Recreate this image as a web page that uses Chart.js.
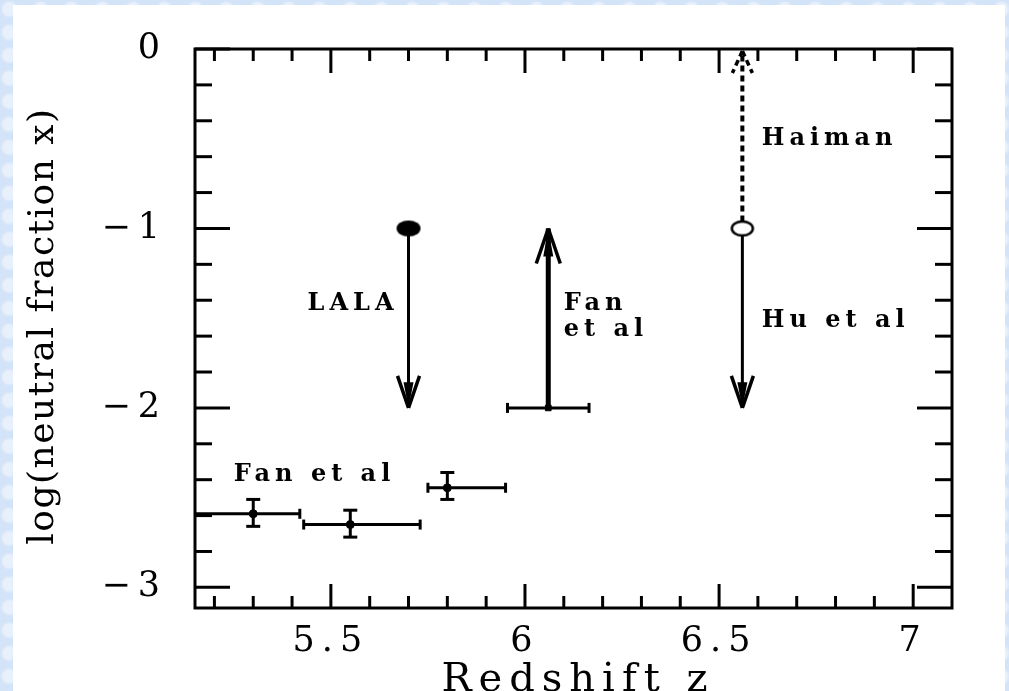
<!DOCTYPE html>
<html lang="en">
<head>
<meta charset="UTF-8" />
<title>Neutral fraction vs redshift</title>
<script src="https://cdn.jsdelivr.net/npm/chart.js"></script>
<style>
  html, body { margin: 0; padding: 0; }
  body {
    width: 1009px; height: 691px; overflow: hidden; position: relative;
    background-color: #d3e3f8;
    background-image:
      radial-gradient(circle at 30% 40%, rgba(255,255,255,.45) 0 6px, transparent 9px),
      radial-gradient(circle at 70% 75%, rgba(190,212,245,.6) 0 5px, transparent 8px);
    background-size: 31px 23px, 27px 37px;
  }
  #panel { position: absolute; left: 13px; top: 5px; width: 992px; height: 686px; background: #fff; }
  #plot { position: absolute; left: 0; top: 0; }
</style>
</head>
<body>
<div id="panel"></div>
<canvas id="plot" width="1009" height="691"></canvas>
<script>
// axis ticks
const XTICKS = [5.5, 6, 6.5, 7];
const YTICKS = [0, -1, -2, -3];

// Fan et al quasar measurements (z, log x, with error ranges)
const fanZ   = [5.30, 5.55, 5.80];
const fanX   = [-2.59, -2.65, -2.445];
const fanZLo = [5.14, 5.43, 5.75];
const fanZHi = [5.42, 5.73, 5.95];
const fanXLo = [-2.66, -2.72, -2.51];
const fanXHi = [-2.51, -2.57, -2.36];

// Fan et al lower limit at z ~ 6
const gpZ     = [6.06];
const gpX     = [-2.0];
const gpZLo   = [5.955];
const gpZHi   = [6.165];
const gpLimit = [-1.0];

// LALA upper limit
const lalaZ     = [5.70];
const lalaX     = [-1.0];
const lalaLimit = [-2.0];

// Hu et al upper limit, Haiman range
const huZ         = [6.56];
const huX         = [-1.0];
const huLimit     = [-2.0];
const haimanLimit = [0.0];

const notes = [
  { text: 'LALA',      z: 5.44,  v: -1.42 },
  { text: 'Fan',       z: 6.10,  v: -1.42 },
  { text: 'et al',     z: 6.10,  v: -1.565 },
  { text: 'Hu et al',  z: 6.61,  v: -1.515 },
  { text: 'Haiman',    z: 6.61,  v: -0.50 },
  { text: 'Fan et al', z: 5.25,  v: -2.37 }
];

function ellipseMark(filled) {
  const c = document.createElement('canvas');
  c.width = 26; c.height = 18;
  const g = c.getContext('2d');
  g.beginPath();
  if (filled) {
    g.ellipse(13, 9, 12, 8, 0, 0, 2 * Math.PI);
    g.fillStyle = '#000'; g.fill();
  } else {
    g.ellipse(13, 9, 10.5, 7, 0, 0, 2 * Math.PI);
    g.lineWidth = 2.5; g.strokeStyle = '#000'; g.stroke();
  }
  return c;
}

function line(ctx, x0, y0, x1, y1) {
  ctx.beginPath(); ctx.moveTo(x0, y0); ctx.lineTo(x1, y1); ctx.stroke();
}

function arrow(ctx, px, y0, y1, w, hl, hw, dash) {
  const dir = Math.sign(y1 - y0);
  ctx.setLineDash(dash || []);
  ctx.lineWidth = w;
  line(ctx, px, y0, px, y1);
  ctx.lineWidth = 3.5;
  line(ctx, px, y1, px - hw, y1 - dir * hl);
  line(ctx, px, y1, px + hw, y1 - dir * hl);
  if (!dash) {
    ctx.beginPath();
    ctx.moveTo(px, y1);
    ctx.lineTo(px - 5, y1 - dir * hl * 0.8);
    ctx.lineTo(px + 5, y1 - dir * hl * 0.8);
    ctx.closePath(); ctx.fill();
  }
  ctx.setLineDash([]);
}

const decor = {
  id: 'decor',
  beforeDraw(chart) {
    chart.ctx.save();
    chart.ctx.letterSpacing = '7px';
  },
  beforeDatasetsDraw(chart) {
    chart.ctx.restore();
  },
  afterDatasetsDraw(chart) {
    const ctx = chart.ctx, xs = chart.scales.x, ys = chart.scales.y, a = chart.chartArea;
    ctx.save();
    ctx.beginPath(); ctx.rect(a.left, a.top, a.right - a.left, a.bottom - a.top); ctx.clip();
    ctx.strokeStyle = '#000'; ctx.fillStyle = '#000'; ctx.lineWidth = 3;

    // error bars
    const bars = [];
    fanZ.forEach((z, i) => bars.push([z, fanX[i], fanZLo[i], fanZHi[i], fanXLo[i], fanXHi[i]]));
    gpZ.forEach((z, i) => bars.push([z, gpX[i], gpZLo[i], gpZHi[i], null, null]));
    bars.forEach(([z, v, zlo, zhi, vlo, vhi]) => {
      const px = xs.getPixelForValue(z), py = ys.getPixelForValue(v);
      const l = xs.getPixelForValue(zlo), r = xs.getPixelForValue(zhi);
      ctx.lineWidth = 3;
      line(ctx, l, py, r, py);
      line(ctx, l, py - 5, l, py + 5);
      line(ctx, r, py - 5, r, py + 5);
      if (vlo !== null) {
        const t = ys.getPixelForValue(vhi), b = ys.getPixelForValue(vlo);
        line(ctx, px, t, px, b);
        line(ctx, px - 7, t, px + 7, t);
        line(ctx, px - 7, b, px + 7, b);
      }
    });

    // limit arrows
    gpZ.forEach((z, i) => {
      arrow(ctx, xs.getPixelForValue(z), ys.getPixelForValue(gpX[i]), ys.getPixelForValue(gpLimit[i]), 5, 35, 12);
    });
    lalaZ.forEach((z, i) => {
      arrow(ctx, xs.getPixelForValue(z), ys.getPixelForValue(lalaX[i]) + 6, ys.getPixelForValue(lalaLimit[i]), 3, 32, 11);
    });
    huZ.forEach((z, i) => {
      arrow(ctx, xs.getPixelForValue(z), ys.getPixelForValue(huX[i]) + 7, ys.getPixelForValue(huLimit[i]), 3, 32, 11);
      arrow(ctx, xs.getPixelForValue(z), ys.getPixelForValue(huX[i]) - 7, ys.getPixelForValue(haimanLimit[i]) + 2, 4, 22, 10, [6, 4]);
    });
    ctx.restore();
  },
  afterDraw(chart) {
    const ctx = chart.ctx, xs = chart.scales.x, ys = chart.scales.y, a = chart.chartArea;
    ctx.save();
    ctx.strokeStyle = '#000'; ctx.fillStyle = '#000'; ctx.lineWidth = 3;
    ctx.strokeRect(a.left, a.top, a.right - a.left, a.bottom - a.top);

    // inward ticks on all four sides
    for (let k = 52; k <= 70; k++) {
      const px = xs.getPixelForValue(k / 10);
      const L = k % 5 === 0 ? 24 : 12;
      line(ctx, px, a.bottom, px, a.bottom - L);
      line(ctx, px, a.top, px, a.top + L);
    }
    for (let k = 0; k <= 15; k++) {
      const py = ys.getPixelForValue(-k * 0.2);
      const L = k % 5 === 0 ? 35 : 17;
      line(ctx, a.left, py, a.left + L, py);
      line(ctx, a.right, py, a.right - L, py);
    }

    // axis titles
    ctx.textAlign = 'center'; ctx.textBaseline = 'middle';
    ctx.font = '40px "DejaVu Serif"';
    ctx.letterSpacing = '7px';
    ctx.fillText('Redshift z', 578, 681);
    ctx.save();
    ctx.translate(44, 326); ctx.rotate(-Math.PI / 2);
    ctx.font = '36px "DejaVu Serif"';
    ctx.letterSpacing = '1.5px';
    ctx.fillText('log(neutral fraction x)', 0, 0);
    ctx.restore();

    // annotations
    ctx.textAlign = 'left';
    ctx.font = 'bold 24px "DejaVu Serif"';
    ctx.letterSpacing = '5px';
    notes.forEach(n => ctx.fillText(n.text, xs.getPixelForValue(n.z), ys.getPixelForValue(n.v)));
    ctx.restore();
  }
};

new Chart(document.getElementById('plot'), {
  type: 'scatter',
  data: {
    datasets: [
      { label: 'Fan et al', data: fanZ.map((z, i) => ({ x: z, y: fanX[i] })),
        backgroundColor: '#000', borderColor: '#000', pointRadius: 4 },
      { label: 'Fan et al limit', data: gpZ.map((z, i) => ({ x: z, y: gpX[i] })),
        backgroundColor: '#000', borderColor: '#000', pointStyle: 'rect', pointRadius: 4 },
      { label: 'LALA', data: lalaZ.map((z, i) => ({ x: z, y: lalaX[i] })),
        pointStyle: ellipseMark(true) },
      { label: 'Hu et al', data: huZ.map((z, i) => ({ x: z, y: huX[i] })),
        pointStyle: ellipseMark(false) }
    ]
  },
  options: {
    responsive: false,
    animation: false,
    events: [],
    layout: { padding: { top: 41, right: 57, left: 0, bottom: 0 } },
    plugins: { legend: { display: false }, tooltip: { enabled: false } },
    scales: {
      x: {
        type: 'linear', min: 5.15, max: 7.1,
        grid: { display: false, drawTicks: false },
        border: { display: false },
        afterBuildTicks: s => { s.ticks = XTICKS.map(v => ({ value: v })); },
        afterFit: s => { s.height = 83; },
        ticks: { color: '#000', font: { family: 'DejaVu Serif', size: 35 }, padding: 13, maxRotation: 0,
                 callback: v => String(v) }
      },
      y: {
        type: 'linear', min: -3.115, max: 0,
        grid: { display: false, drawTicks: false },
        border: { display: false },
        afterBuildTicks: s => { s.ticks = YTICKS.map(v => ({ value: v })); },
        afterFit: s => { s.width = 195; },
        ticks: { color: '#000', font: { family: 'DejaVu Serif', size: 35 }, padding: 28,
                 callback: v => v === 0 ? '0' : '\u2212' + Math.abs(v) }
      }
    }
  },
  plugins: [decor]
});
</script>
</body>
</html>
